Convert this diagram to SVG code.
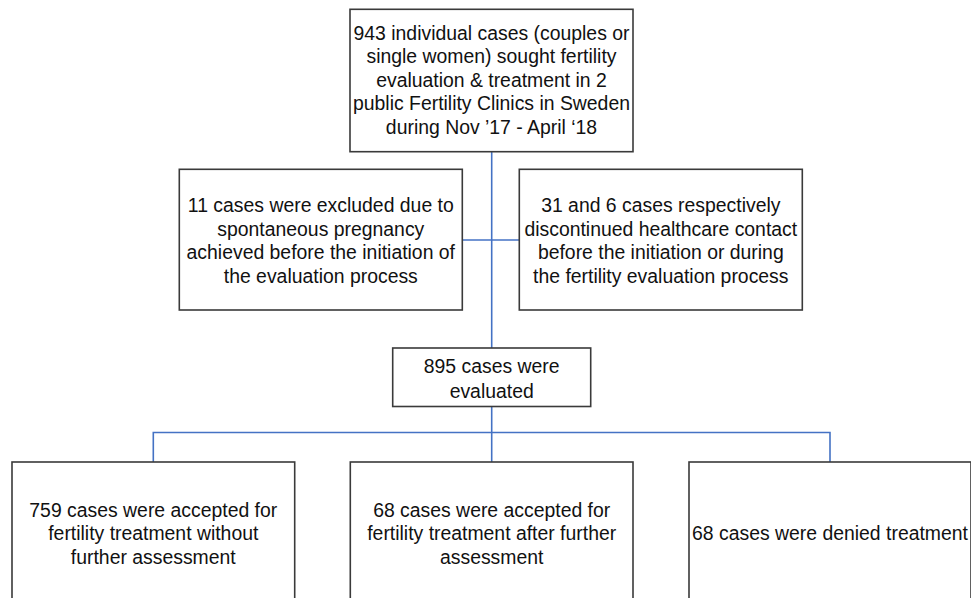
<svg xmlns="http://www.w3.org/2000/svg" width="971" height="598" viewBox="0 0 971 598">
<style>
.box{fill:#ffffff;stroke:#3a3a3a;stroke-width:1.6}
.conn{fill:none;stroke:#4472C4;stroke-width:1.6}
text{font-family:"Liberation Sans",Arial,sans-serif;font-size:19.4px;fill:#111111;text-anchor:middle}
</style>
<rect width="971" height="598" fill="#ffffff"/>
<g id="connectors">
<line class="conn" x1="491.7" y1="151.7" x2="491.7" y2="348"/>
<line class="conn" x1="462.3" y1="240" x2="519.3" y2="240"/>
<line class="conn" x1="491.7" y1="406.5" x2="491.7" y2="462"/>
<polyline class="conn" points="153.3,462 153.3,432.5 830,432.5 830,462"/>
</g>
<g id="n-top">
<rect class="box" x="350" y="9.3" width="283" height="142.4"/>
<text x="491.5" y="40">943 individual cases (couples or</text>
<text x="491.5" y="63.4">single women) sought fertility</text>
<text x="491.5" y="86.8">evaluation &amp; treatment in 2</text>
<text x="491.5" y="110.2">public Fertility Clinics in Sweden</text>
<text x="491.5" y="133.6">during Nov ’17 - April ‘18</text>
</g>
<g id="n-excluded">
<rect class="box" x="179.3" y="169.3" width="283" height="140.7"/>
<text x="320.8" y="212">11 cases were excluded due to</text>
<text x="320.8" y="235.5">spontaneous pregnancy</text>
<text x="320.8" y="259">achieved before the initiation of</text>
<text x="320.8" y="282.5">the evaluation process</text>
</g>
<g id="n-discontinued">
<rect class="box" x="519.3" y="169.3" width="283" height="140.7"/>
<text x="660.8" y="212">31 and 6 cases respectively</text>
<text x="660.8" y="235.5">discontinued healthcare contact</text>
<text x="660.8" y="259">before the initiation or during</text>
<text x="660.8" y="282.5">the fertility evaluation process</text>
</g>
<g id="n-evaluated">
<rect class="box" x="392.7" y="348" width="198" height="58.5"/>
<text x="491.7" y="373">895 cases were</text>
<text x="491.7" y="397.5">evaluated</text>
</g>
<g id="n-accepted">
<rect class="box" x="12" y="462" width="282.7" height="142"/>
<text x="153.3" y="516.5">759 cases were accepted for</text>
<text x="153.3" y="540">fertility treatment without</text>
<text x="153.3" y="563.5">further assessment</text>
</g>
<g id="n-accepted-further">
<rect class="box" x="350.3" y="462" width="282.7" height="142"/>
<text x="491.7" y="516.5">68 cases were accepted for</text>
<text x="491.7" y="540">fertility treatment after further</text>
<text x="491.7" y="563.5">assessment</text>
</g>
<g id="n-denied">
<rect class="box" x="689" y="462" width="282" height="142"/>
<text x="830" y="540">68 cases were denied treatment</text>
</g>
</svg>
